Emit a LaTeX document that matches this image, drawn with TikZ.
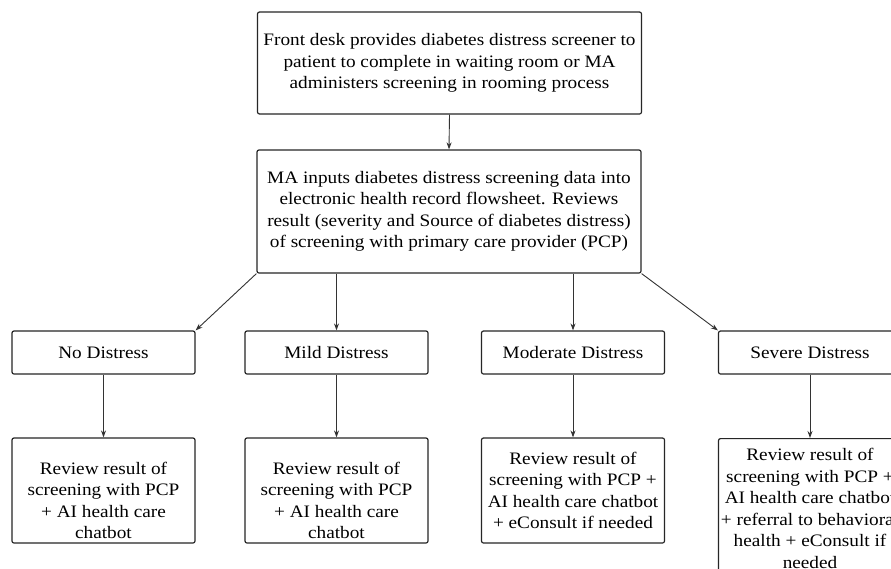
\documentclass[tikz,border=0pt]{standalone}
\usepackage{fontspec}
\setmainfont{Liberation Serif}[FakeStretch=1.1]
\usetikzlibrary{arrows.meta}
\begin{document}
\begin{tikzpicture}[x=1pt,y=-1pt,
  box/.style={draw=black!85,line width=1.2pt,rounded corners=2pt,align=center,inner sep=0pt,
    font=\fontsize{17.5}{21.5}\selectfont},
  conn/.style={draw=black!80,line width=0.9pt,-{Stealth[length=7pt,width=5pt]}}]
\path[use as bounding box,clip] (0,0) rectangle (891,568);
\fill[white] (0,0) rectangle (891,568);
\node[box,minimum width=384pt,minimum height=102pt] (top) at (449.5,63)
  {Front desk provides diabetes distress screener to\\patient to complete in waiting room or MA\\administers screening in rooming process};
\node[box,minimum width=384pt,minimum height=123pt] (ma) at (449,211.5)
  {MA inputs diabetes distress screening data into\\electronic health record flowsheet. Reviews\\result (severity and Source of diabetes distress)\\of screening with primary care provider (PCP)};
\node[box,minimum width=183pt,minimum height=43pt] (no) at (103.5,352.5) {No Distress};
\node[box,minimum width=183pt,minimum height=43pt] (mild) at (336.5,352.5) {Mild Distress};
\node[box,minimum width=183pt,minimum height=43pt] (mod) at (573,352.5) {Moderate Distress};
\node[box,minimum width=183pt,minimum height=43pt] (sev) at (810,352.5) {Severe Distress};
\node[box,minimum width=183pt,minimum height=105pt] (rno) at (103.5,490.5)
  {\rule{0pt}{32pt}Review result of\\screening with PCP\\+ AI health care\\chatbot};
\node[box,minimum width=183pt,minimum height=105pt] (rmild) at (336.5,490.5)
  {\rule{0pt}{32pt}Review result of\\screening with PCP\\+ AI health care\\chatbot};
\node[box,minimum width=183pt,minimum height=105pt] (rmod) at (573,490.5)
  {Review result of\\screening with PCP +\\AI health care chatbot\\+ eConsult if needed};
\node[box,minimum width=183pt,inner ysep=10pt,anchor=north] (rsev) at (810,438)
  {Review result of\\screening with PCP +\\AI health care chatbot\\+ referral to behavioral\\health + eConsult if\\needed};
\draw[conn] (top.south) -- (ma.north);
\draw[conn] (ma.south west) -- (no.north east);
\draw[conn] (ma.south -| mild.north) -- (mild.north);
\draw[conn] (ma.south -| mod.north) -- (mod.north);
\draw[conn] (ma.south east) -- (sev.north west);
\draw[conn] (no) -- (rno);
\draw[conn] (mild) -- (rmild);
\draw[conn] (mod) -- (rmod);
\draw[conn] (sev) -- (rsev);
\end{tikzpicture}
\end{document}
